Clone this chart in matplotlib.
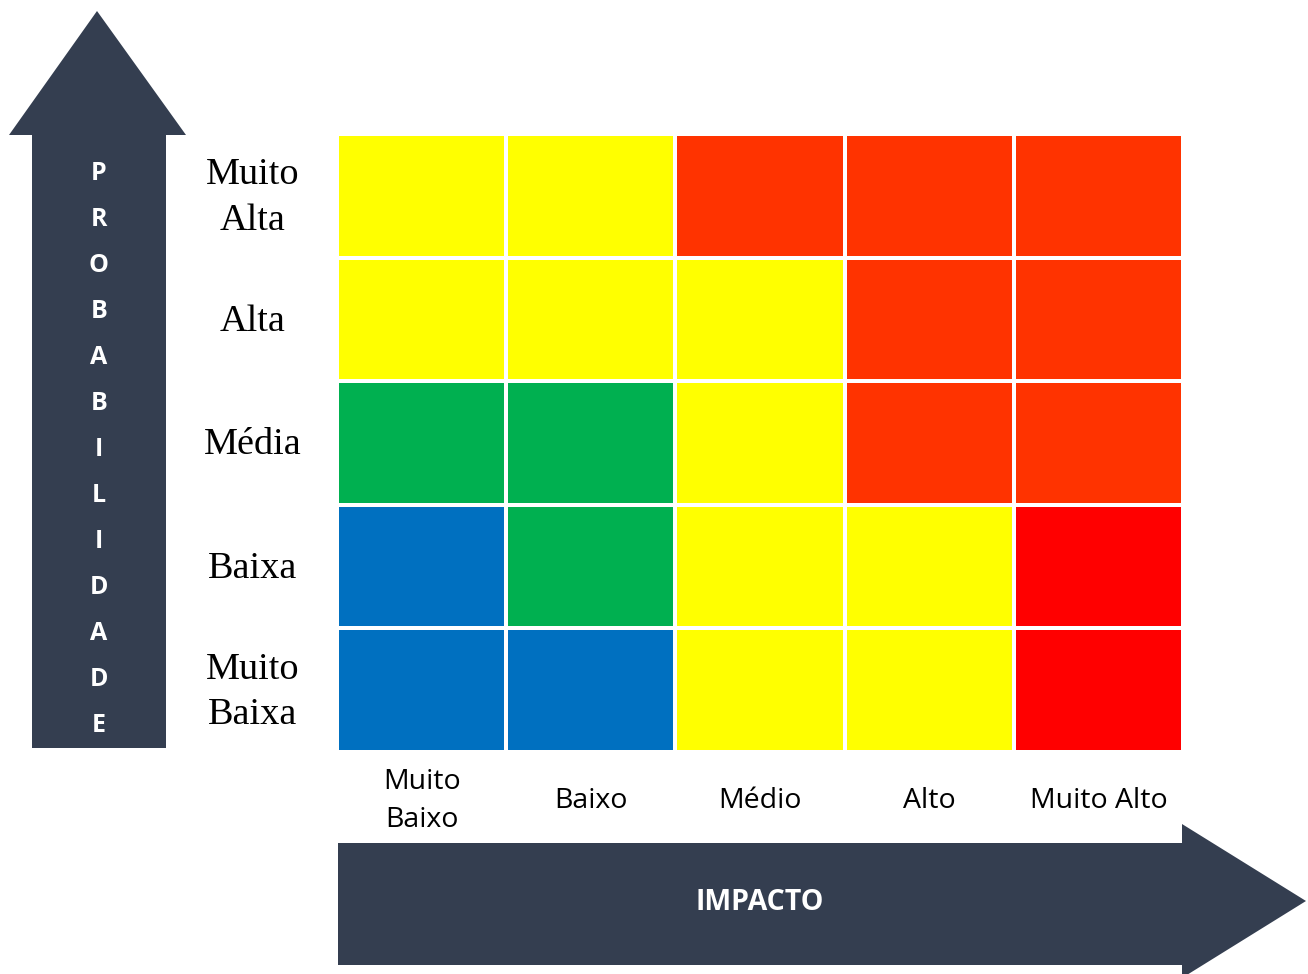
import numpy as np
import matplotlib.pyplot as plt
from matplotlib.colors import ListedColormap
from matplotlib.patches import Polygon, Rectangle

# niveis de probabilidade (de cima para baixo) e impacto (esquerda para direita)
probabilidade = ["Muito\nAlta", "Alta", "Média", "Baixa", "Muito\nBaixa"]
impacto = ["Muito\nBaixo", "Baixo", "Médio", "Alto", "Muito Alto"]

# 0 = azul, 1 = verde, 2 = amarelo, 3 = laranja, 4 = vermelho
matriz = [
    [2, 2, 3, 3, 3],
    [2, 2, 2, 3, 3],
    [1, 1, 2, 3, 3],
    [0, 1, 2, 2, 4],
    [0, 0, 2, 2, 4],
]
cores = ["#0070C0", "#00B050", "#FFFF00", "#FF3300", "#FF0000"]
escuro = "#343E50"

fig = plt.figure(figsize=(13.08, 9.74), dpi=100)
ax = fig.add_axes([0, 0, 1, 1])
ax.set_xlim(0, 1308)
ax.set_ylim(974, 0)
ax.axis("off")

# matriz de risco
xs = np.linspace(337, 1183, len(impacto) + 1)
ys = np.linspace(134, 752, len(probabilidade) + 1)
ax.pcolormesh(xs, ys, np.array(matriz), cmap=ListedColormap(cores),
              vmin=-0.5, vmax=4.5, edgecolors="white", linewidth=1.5)

# seta vertical (probabilidade)
ax.add_patch(Rectangle((32, 135), 134, 613, color=escuro, lw=0))
ax.add_patch(Polygon([(9, 135), (186, 135), (97, 11)], closed=True,
                     color=escuro, lw=0))
palavra = "PROBABILIDADE"
for i, letra in enumerate(palavra):
    ax.text(99, 173 + i * 46.0, letra, color="white", fontsize=18,
            fontweight="bold", family="Open Sans", ha="center", va="center")

# seta horizontal (impacto)
ax.add_patch(Rectangle((338, 843), 844, 122, color=escuro, lw=0))
ax.add_patch(Polygon([(1182, 824), (1182, 978), (1306, 901)], closed=True,
                     color=escuro, lw=0))
ax.text(760, 903, "IMPACTO", color="white", fontsize=20.5, fontweight="bold",
        family="Open Sans", ha="center", va="center")

# rotulos
yc = (ys[:-1] + ys[1:]) / 2
for y, rot in zip(yc, probabilidade):
    ax.text(253, y + 2, rot, fontsize=27.5, family="Liberation Serif",
            ha="center", va="center", linespacing=1.42)

xc = (xs[:-1] + xs[1:]) / 2
for x, rot in zip(xc, impacto):
    ax.text(x, 801, rot, fontsize=20.5, family="Open Sans",
            ha="center", va="center", linespacing=1.47)

fig.savefig("out.png", dpi=100)
